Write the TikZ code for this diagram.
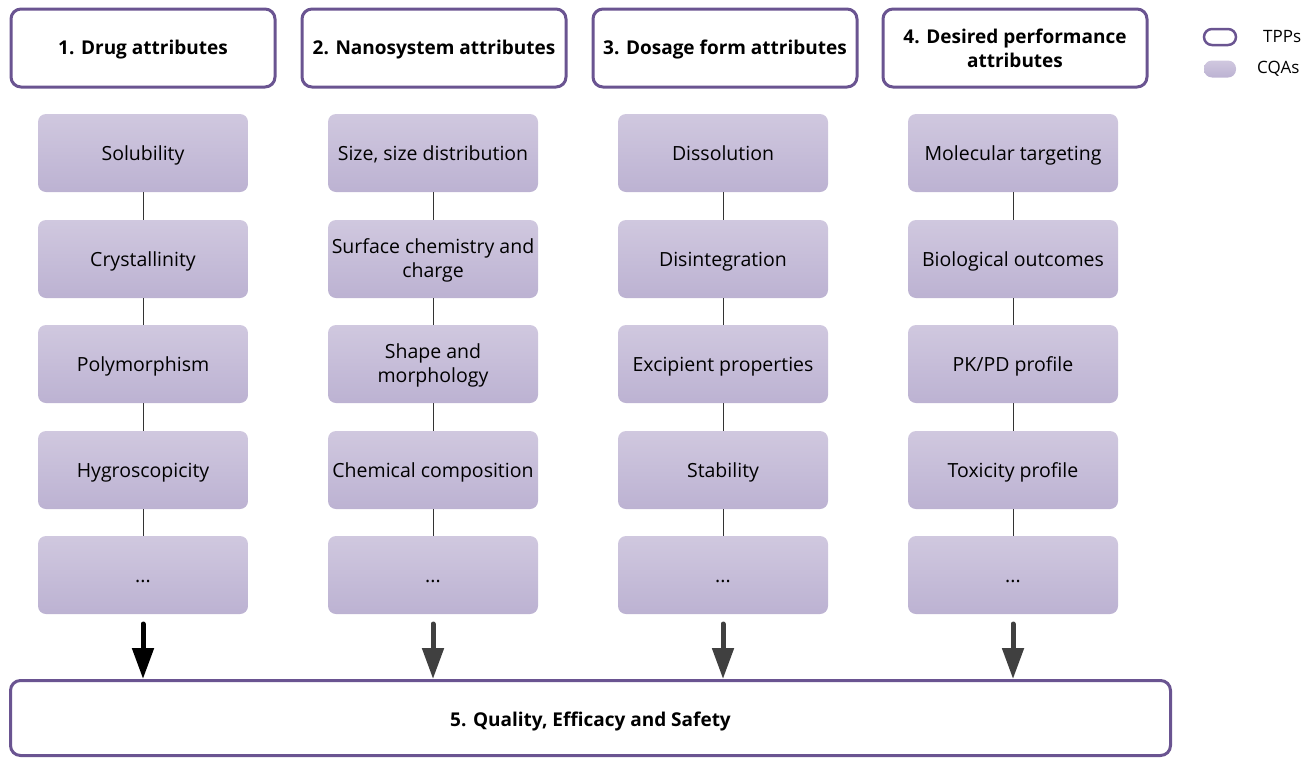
\documentclass[tikz,border=0pt]{standalone}
\usepackage{fontspec}
\setmainfont{Open Sans}
\usetikzlibrary{arrows.meta}
\definecolor{tppc}{HTML}{6A5491}
\definecolor{cqatop}{HTML}{D0C8DF}
\definecolor{cqabot}{HTML}{BCB2D2}
\definecolor{arrgray}{HTML}{404040}
\tikzset{
  tpp/.style={draw=tppc, line width=3pt, rounded corners=10pt, fill=white,
    minimum width=264pt, minimum height=78pt, align=center,
    font=\bfseries\fontsize{19}{24}\selectfont, inner sep=0pt,
    text height=12pt, text depth=0pt},
  cqa/.style={rounded corners=8pt, top color=cqatop, bottom color=cqabot,
    minimum width=210pt, minimum height=78pt, align=center,
    font=\fontsize{19.5}{24}\selectfont, inner sep=0pt,
    text height=14pt, text depth=0pt},
  twoline/.style={text height=37pt},
  natural/.style={text height={}, text depth={}},
  link/.style={draw=black!80, line width=1pt},
  bigarr/.style={line width=5pt, line cap=round, -{Triangle[width=21pt,length=31pt]}},
  legtpp/.style={draw=tppc, line width=2.5pt, rounded corners=8pt, minimum width=32pt, minimum height=16pt, inner sep=0pt},
  legcqa/.style={rounded corners=8pt, top color=cqatop, bottom color=cqabot, minimum width=32pt, minimum height=17pt, inner sep=0pt},
  legtxt/.style={font=\fontsize{17}{18}\selectfont, anchor=west, inner sep=0pt}
}
\begin{document}
\begin{tikzpicture}[x=1pt,y=-1pt]
\useasboundingbox (0,0) rectangle (1311,758);
% TPP headers
\node[tpp] (h1) at (143,48) {1. Drug attributes};
\node[tpp] (h2) at (434,48) {2. Nanosystem attributes};
\node[tpp] (h3) at (725,48) {3. Dosage form attributes};
\node[tpp, natural] (h4) at (1015,48) {4. Desired performance\\attributes};
% Column 1
\node[cqa] (a1) at (143,153) {Solubility};
\node[cqa] (a2) at (143,259) {Crystallinity};
\node[cqa] (a3) at (143,364) {Polymorphism};
\node[cqa] (a4) at (143,470) {Hygroscopicity};
\node[cqa] (a5) at (143,575) {...};
% Column 2
\node[cqa] (b1) at (433,153) {Size, size distribution};
\node[cqa, twoline] (b2) at (433,259) {Surface chemistry and\\charge};
\node[cqa, twoline] (b3) at (433,364) {Shape and\\morphology};
\node[cqa] (b4) at (433,470) {Chemical composition};
\node[cqa] (b5) at (433,575) {...};
% Column 3
\node[cqa] (c1) at (723,153) {Dissolution};
\node[cqa] (c2) at (723,259) {Disintegration};
\node[cqa] (c3) at (723,364) {Excipient properties};
\node[cqa] (c4) at (723,470) {Stability};
\node[cqa] (c5) at (723,575) {...};
% Column 4
\node[cqa] (d1) at (1013,153) {Molecular targeting};
\node[cqa] (d2) at (1013,259) {Biological outcomes};
\node[cqa] (d3) at (1013,364) {PK/PD profile};
\node[cqa] (d4) at (1013,470) {Toxicity profile};
\node[cqa] (d5) at (1013,575) {...};
% links
\foreach \c in {a,b,c,d}{
  \draw[link] (\c1.south) -- (\c2.north);
  \draw[link] (\c2.south) -- (\c3.north);
  \draw[link] (\c3.south) -- (\c4.north);
  \draw[link] (\c4.south) -- (\c5.north);
}
% bottom box
\node[tpp, minimum width=1160pt, minimum height=75pt, text height=17pt] (q) at (590.5,718) {5. Quality, Efficacy and Safety};
% arrows
\coordinate (s1) at (143,624);
\coordinate (s2) at (433,624);
\coordinate (s3) at (723,624);
\coordinate (s4) at (1013,624);
\draw[bigarr, black] (s1) -- (s1 |- q.north);
\draw[bigarr, arrgray] (s2) -- (s2 |- q.north);
\draw[bigarr, arrgray] (s3) -- (s3 |- q.north);
\draw[bigarr, arrgray] (s4) -- (s4 |- q.north);
% legend
\node[legtpp] (lt) at (1220,37) {};
\node[legcqa] (lc) at (1220,69) {};
\node[legtxt] (ltt) at (1263,37) {TPPs};
\node[legtxt] (lct) at (1257,69) {CQAs};
\end{tikzpicture}
\end{document}
